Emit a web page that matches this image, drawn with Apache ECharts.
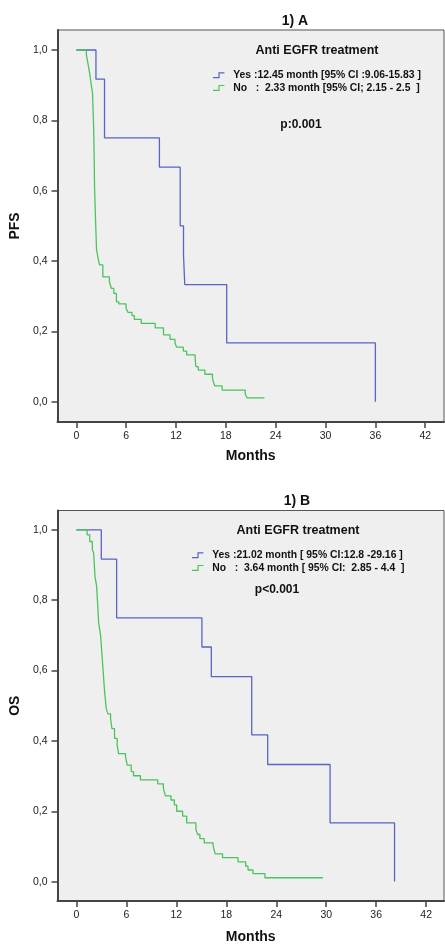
<!DOCTYPE html>
<html>
<head>
<meta charset="utf-8">
<script src="https://cdn.jsdelivr.net/npm/echarts@6/dist/echarts.min.js"></script>
<style>
html,body{margin:0;padding:0;background:#fff;}
#chart{width:445px;height:945px;}
</style>
</head>
<body>
<div id="chart"></div>
<script>
// ---- data ----
var xTicks = [0, 6, 12, 18, 24, 30, 36, 42];
var yTicks = [0, 0.2, 0.4, 0.6, 0.8, 1.0];

var pfsYesName = 'Yes :12.45 month [95% CI :9.06-15.83 ]';
var pfsNoName = 'No   :  2.33 month [95% CI; 2.15 - 2.5  ]';
var osYesName = 'Yes :21.02 month [ 95% CI:12.8 -29.16 ]';
var osNoName = 'No   :  3.64 month [ 95% CI:  2.85 - 4.4  ]';

var pfsYesT = [0, 2.36, 3.39, 10.0, 12.5, 12.9, 13.05, 18.1, 36.0];
var pfsYesS = [1, 0.917, 0.75, 0.667, 0.5, 0.417, 0.333, 0.167, 0];

var pfsNoT = [0, 1.2, 1.43, 1.63, 1.8, 1.95, 2.08, 2.15, 2.19, 2.31, 2.43, 2.6, 2.79, 3.19, 3.98, 4.22, 4.51, 4.82, 5.11, 5.98, 6.22, 6.70, 6.97, 7.81, 9.49, 10.49, 11.28, 11.88, 12.08, 12.88, 13.28, 14.3, 14.39, 14.68, 15.47, 16.39, 16.5, 16.66, 17.55, 20.33, 20.54, 22.64];
var pfsNoS = [1, 0.988, 0.957, 0.929, 0.9, 0.877, 0.78, 0.69, 0.611, 0.517, 0.433, 0.41, 0.389, 0.355, 0.341, 0.322, 0.308, 0.284, 0.278, 0.266, 0.254, 0.245, 0.234, 0.223, 0.21, 0.19, 0.177, 0.166, 0.155, 0.144, 0.133, 0.122, 0.1, 0.09, 0.078, 0.067, 0.056, 0.045, 0.033, 0.022, 0.011, 0.011];

var osYesT = [0, 2.99, 4.83, 15.07, 16.2, 21.05, 22.97, 30.46, 38.2];
var osYesS = [1, 0.917, 0.75, 0.667, 0.583, 0.417, 0.333, 0.167, 0];

var osNoT = [0, 1.28, 1.6, 1.91, 2.07, 2.23, 2.43, 2.55, 2.67, 2.79, 2.91, 3.05, 3.19, 3.29, 3.39, 3.49, 3.59, 3.79, 4.1, 4.27, 4.58, 4.9, 5.06, 5.9, 6.1, 6.58, 6.86, 7.69, 9.77, 10.44, 10.68, 11.36, 11.76, 12.04, 12.76, 13.24, 14.35, 14.56, 14.83, 15.35, 16.42, 16.66, 17.55, 19.41, 20.33, 20.61, 21.2, 22.64, 29.6];
var osNoS = [1, 0.986, 0.967, 0.944, 0.934, 0.868, 0.84, 0.79, 0.736, 0.718, 0.699, 0.652, 0.605, 0.572, 0.539, 0.515, 0.491, 0.477, 0.463, 0.435, 0.407, 0.388, 0.364, 0.355, 0.331, 0.313, 0.301, 0.289, 0.278, 0.266, 0.244, 0.232, 0.218, 0.2, 0.186, 0.167, 0.148, 0.134, 0.122, 0.11, 0.101, 0.079, 0.068, 0.056, 0.044, 0.033, 0.023, 0.011, 0.011];

// ---- build ----
function zip(t, s) { return t.map(function (v, i) { return [v, s[i]]; }); }

var FONT = '"Liberation Sans", Arial, sans-serif';
var BLUE = '#5666c2';
var GREEN = '#4cc45c';
var AXIS = '#444';

function xAx(gi, min, max, nameGap) {
  return {
    gridIndex: gi, type: 'value', min: min, max: max,
    name: 'Months', nameLocation: 'middle', nameGap: nameGap,
    nameTextStyle: { fontFamily: FONT, fontWeight: 'bold', fontSize: 14, color: '#111' },
    axisLine: { show: true, onZero: false, lineStyle: { color: AXIS, width: 2 } },
    axisTick: { show: true, inside: false, length: 6, customValues: xTicks, lineStyle: { color: AXIS, width: 1.5 } },
    axisLabel: { customValues: xTicks, margin: 9, fontFamily: FONT, fontSize: 10.5, color: '#222' },
    splitLine: { show: false }
  };
}
function yAx(gi, min, max, name, nameGap) {
  return {
    gridIndex: gi, type: 'value', min: min, max: max,
    name: name, nameLocation: 'middle', nameGap: nameGap, nameRotate: 90,
    nameTextStyle: { fontFamily: FONT, fontWeight: 'bold', fontSize: 14, color: '#111' },
    axisLine: { show: true, onZero: false, lineStyle: { color: AXIS, width: 2 } },
    axisTick: { show: true, inside: false, length: 6, customValues: yTicks, lineStyle: { color: AXIS, width: 1.5 } },
    axisLabel: {
      customValues: yTicks, margin: 10, fontFamily: FONT, fontSize: 10.5, color: '#222',
      formatter: function (v) { return v.toFixed(1).replace('.', ','); }
    },
    splitLine: { show: false }
  };
}
function km(name, t, s, color, gi) {
  return {
    name: name, type: 'line', step: 'end', xAxisIndex: gi, yAxisIndex: gi,
    data: zip(t, s), showSymbol: false, symbol: 'none', silent: true,
    lineStyle: { color: color, width: 1.3 }, itemStyle: { color: color },
    animation: false
  };
}
var stepIcon = 'path://M0,8 L9,8 L9,0 L19,0 L19,2 L11,2 L11,10 L0,10 Z';
function leg(names, left, top) {
  return {
    data: names, left: left, top: top, orient: 'vertical',
    icon: stepIcon, itemWidth: 19, itemHeight: 6, itemGap: 0,
    selectedMode: false,
    textStyle: { fontFamily: FONT, fontWeight: 'bold', fontSize: 10.4, color: '#111', lineHeight: 12.6, padding: 0 }
  };
}
function txt(x, y, s, size, weight) {
  return {
    type: 'text', x: x, y: y, silent: true,
    style: { text: s, fontFamily: FONT, fontSize: size, fontWeight: weight, fill: '#111', align: 'center', verticalAlign: 'middle' }
  };
}

var option = {
  animation: false,
  backgroundColor: '#ffffff',
  grid: [
    { left: 55, top: 30, right: 1, height: 392, show: true, backgroundColor: '#efefef', borderColor: '#555', borderWidth: 1 },
    { left: 56, top: 510.5, right: 1, height: 393, show: true, backgroundColor: '#efefef', borderColor: '#555', borderWidth: 1 }
  ],
  xAxis: [xAx(0, -2.27, 44.26, 27), xAx(1, -2.27, 44.14, 29)],
  yAxis: [yAx(0, -0.0577, 1.0569, 'PFS', 30), yAx(1, -0.0551, 1.0551, 'OS', 31)],
  legend: [leg([pfsYesName, pfsNoName], 208, 64), leg([osYesName, osNoName], 187, 544)],
  series: [
    km(pfsYesName, pfsYesT, pfsYesS, BLUE, 0),
    km(pfsNoName, pfsNoT, pfsNoS, GREEN, 0),
    km(osYesName, osYesT, osYesS, BLUE, 1),
    km(osNoName, osNoT, osNoS, GREEN, 1)
  ],
  graphic: [
    txt(295, 21, '1) A', 14, 'bold'),
    txt(317, 51, 'Anti EGFR treatment', 12.5, 'bold'),
    txt(301, 125, 'p:0.001', 12, 'bold'),
    txt(297, 501, '1) B', 14, 'bold'),
    txt(298, 531, 'Anti EGFR treatment', 12.5, 'bold'),
    txt(277, 590, 'p<0.001', 12, 'bold')
  ]
};
var chart = echarts.init(document.getElementById('chart'), null, { renderer: 'canvas' });
chart.setOption(option);
</script>
</body>
</html>
